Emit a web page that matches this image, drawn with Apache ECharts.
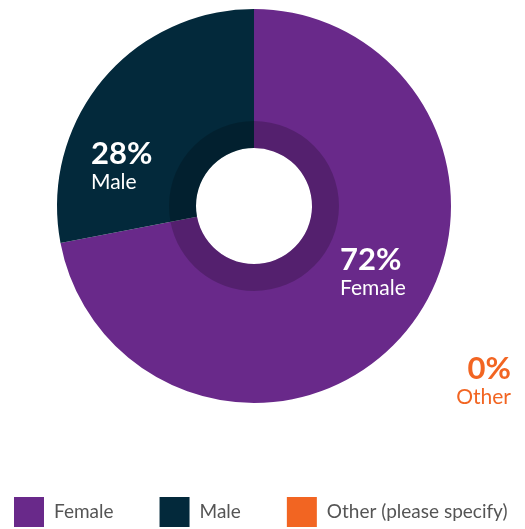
<!DOCTYPE html>
<html>
<head>
<meta charset="utf-8">
<style>
  html, body { margin: 0; padding: 0; background: #ffffff; }
  #chart { width: 525px; height: 529px; }
</style>
<script src="https://cdn.jsdelivr.net/npm/echarts@6/dist/echarts.min.js"></script>
</head>
<body>
<div id="chart"></div>
<script>
// Respondent gender split
const categories = ['Female', 'Male', 'Other (please specify)'];
const shortNames = ['Female', 'Male', 'Other'];
const shares = [72, 28, 0];
const sliceColors = ['#69298a', '#03293b', '#f26522'];
const labelColors = ['#ffffff', '#ffffff', '#f26522'];

const FONT = 'Lato, "Open Sans", sans-serif';

const pieData = categories.map((name, i) => ({
  name: name,
  value: shares[i],
  itemStyle: { color: sliceColors[i] },
  label: {
    rich: {
      v: { color: labelColors[i] },
      n: { color: labelColors[i] }
    }
  }
}));

// Label anchors (pixel positions of each two-line label block)
const labelAnchors = [
  { x: 340, y: 272, align: 'left' },
  { x: 91, y: 166, align: 'left' },
  { x: 511, y: 381, align: 'right' }
];

const chart = echarts.init(document.getElementById('chart'), null, { renderer: 'canvas' });

chart.setOption({
  animation: false,
  legend: {
    data: categories,
    left: 14,
    top: 497,
    padding: 0,
    itemWidth: 30,
    itemHeight: 30,
    itemGap: 46,
    icon: 'rect',
    textStyle: { fontFamily: FONT, fontSize: 19, color: '#555555', padding: [0, 0, 0, 5] },
    selectedMode: false
  },
  series: [
    {
      type: 'pie',
      center: [254, 206],
      radius: [58, 197],
      startAngle: 90,
      clockwise: true,
      silent: true,
      data: pieData,
      label: {
        show: true,
        position: 'inside',
        formatter: p => '{v|' + p.value + '%}\n{n|' + shortNames[p.dataIndex] + '}',
        rich: {
          v: { fontFamily: FONT, fontSize: 31, fontWeight: 'bold', lineHeight: 33 },
          n: { fontFamily: FONT, fontSize: 21, lineHeight: 24 }
        }
      },
      labelLine: { show: false },
      labelLayout: p => {
        const a = labelAnchors[p.dataIndex];
        return { x: a.x, y: a.y, align: a.align, verticalAlign: 'middle' };
      }
    },
    {
      // darker inner band around the hole
      type: 'pie',
      center: [254, 206],
      radius: [58, 85],
      startAngle: 90,
      clockwise: true,
      silent: true,
      z: 3,
      data: categories.map((name, i) => ({ name: name + ' ', value: shares[i] })),
      itemStyle: { color: 'rgba(0,0,0,0.2)' },
      label: { show: false },
      labelLine: { show: false }
    }
  ]
});
</script>
</body>
</html>
